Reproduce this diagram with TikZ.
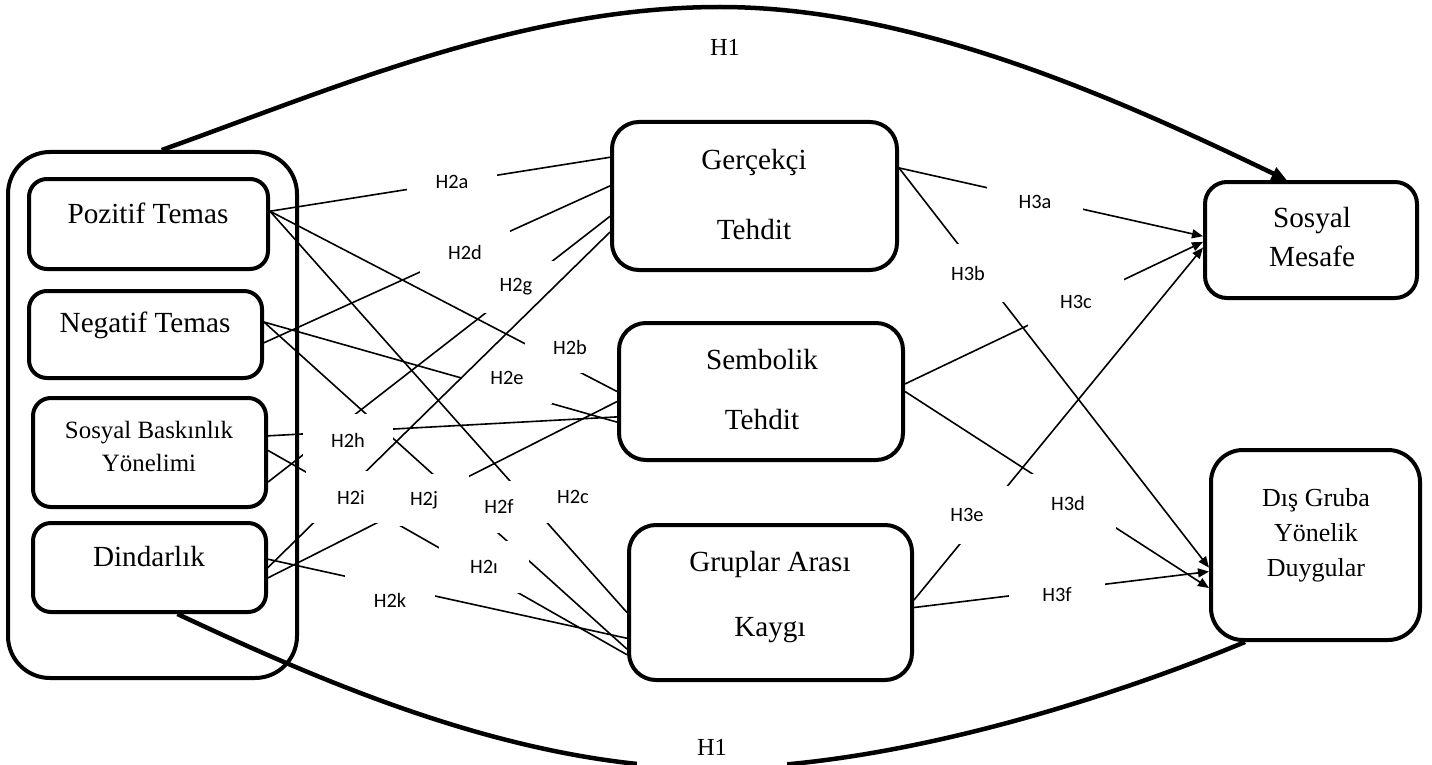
\documentclass[tikz,border=0pt]{standalone}
\usepackage{fontspec}
\setmainfont{Liberation Serif}
\newfontfamily\hypfont{Carlito}
\usetikzlibrary{arrows.meta}
\def\boxfont#1#2{\fontsize{#1}{#2}\selectfont}
\tikzset{
	factor/.style={draw, fill=white, line width=4pt, rounded corners=18pt, inner sep=0pt},
	boxtext/.style={align=center, inner sep=0pt},
	link/.style={line width=1.6pt},
	linkarrow/.style={link, -{Triangle[length=11pt, width=9pt]}},
	hyptwo/.style={fill=white, inner sep=0pt, minimum width=90pt, minimum height=52pt, font=\hypfont\boxfont{20.4}{24}},
	hypthree/.style={hyptwo, minimum width=96pt, minimum height=58pt},
	bow/.style={line width=4.5pt},
	hone/.style={fill=white, inner sep=0pt, font=\boxfont{24.5}{29}}
}

\begin{document}
\begin{tikzpicture}[x=1pt, y=-1pt]
		%%%%% START %%%%%
		\useasboundingbox (0,0) rectangle (1432,765);
		
		\node[factor, rounded corners=42pt, minimum width=289pt, minimum height=526pt] (outer) at (152.5,415) {};
		\node[factor, minimum width=239pt, minimum height=90pt] (poz) at (148.5,224) {};
		\node[factor, minimum width=233pt, minimum height=87pt] (neg) at (145.5,334.5) {};
		\node[factor, minimum width=233pt, minimum height=109pt] (sby) at (149.5,452.5) {};
		\node[factor, minimum width=233pt, minimum height=89pt] (din) at (149.5,567.5) {};
		
		\node[factor, rounded corners=27pt, minimum width=285pt, minimum height=148pt] (ger) at (754.5,196) {};
		\node[factor, rounded corners=27pt, minimum width=284pt, minimum height=137pt] (sem) at (761,391.5) {};
		\node[factor, rounded corners=27pt, minimum width=283pt, minimum height=155pt] (kay) at (770.5,602.5) {};
		
		\node[factor, rounded corners=22pt, minimum width=212pt, minimum height=116pt] (mes) at (1311,240) {};
		\node[factor, rounded corners=32pt, minimum width=209pt, minimum height=190pt] (duy) at (1315.5,545) {};
		
		\node[boxtext, font=\boxfont{29.2}{35}] (poztext) at (148,213) {Pozitif Temas};
		\node[boxtext, font=\boxfont{29.2}{35}] (negtext) at (145,325) {Negatif Temas};
		\node[boxtext, font=\boxfont{24.9}{33}] (sbytext) at (149,446.5) {Sosyal Baskınlık\\Yönelimi};
		\node[boxtext, font=\boxfont{29.2}{35}] (dintext) at (149,557) {Dindarlık};
		\node[boxtext, font=\boxfont{29.2}{70}] (gertext) at (754,195) {Gerçekçi\\Tehdit};
		\node[boxtext, font=\boxfont{29.2}{60}] (semtext) at (762,390) {Sembolik\\Tehdit};
		\node[boxtext, font=\boxfont{29.2}{65}] (kaytext) at (770,597.5) {Gruplar Arası\\Kaygı};
		\node[boxtext, font=\boxfont{29.2}{39}] (mestext) at (1312,237.5) {Sosyal\\Mesafe};
		\node[boxtext, font=\boxfont{26}{35}] (duytext) at (1316,535) {Dış Gruba\\Yönelik\\Duygular};
		
		\draw[link] (poz.6) -- (ger.165);
		\draw[link] (poz.6) -- (sem.180);
		\draw[link] (poz.6) -- (kay.184);
		\draw[link] (neg.356) -- (ger.176);
		\draw[link] (neg.6) -- (sem.192);
		\draw[link] (neg.6) -- (kay.198);
		\draw[link] (sby.346) -- (ger.188);
		\draw[link] (sby.8) -- (sem.190);
		\draw[link] (sby.1) -- (kay.200);
		\draw[link] (din.4) -- (kay.194);
		\draw[link] (din.355) -- (sem.184);
		
		\draw[linkarrow] (ger.11) -- (mes.178);
		\draw[linkarrow] (ger.11) -- (duy.192);
		\draw[linkarrow] (sem.3) -- (mes.181);
		\draw[linkarrow] (sem.0) -- (duy.202);
		\draw[linkarrow] (kay.1) -- (mes.184);
		\draw[linkarrow] (kay.358) -- (duy.194);
		
		\node[hyptwo] (h2a) at (452,182) {H2a};
		\node[hyptwo] (h2d) at (465,252) {H2d};
		\node[hyptwo] (h2g) at (516,287) {H2g};
		\node[hyptwo] (h2b) at (570,347) {H2b};
		\node[hyptwo] (h2e) at (507,378) {H2e};
		\node[hyptwo] (h2h) at (348,440) {H2h};
		\node[hyptwo] (h2j) at (424,500) {H2j};
		\node[hyptwo] (h2f) at (499,507) {H2f};
		\node[hyptwo] (h2c) at (573,497) {H2c};
		\node[hyptwo] (h2l) at (484,567) {H2ı};
		\node[hyptwo] (h2k) at (390,600) {H2k};
		
		\draw[link] (din.0) -- (ger.194);
		\node[hyptwo] (h2i) at (351,497) {H2i};
		
		\node[hypthree] (h3a) at (1035,202) {H3a};
		\node[hypthree] (h3b) at (968,273) {H3b};
		\node[hypthree] (h3c) at (1076,302) {H3c};
		\node[hypthree] (h3d) at (1068,503) {H3d};
		\node[hypthree] (h3e) at (967,515) {H3e};
		\node[hypthree] (h3f) at (1057,595) {H3f};
		
		\draw[bow, -{Triangle[length=15pt, width=13pt]}] (outer.88) .. controls (330,90) and (520,7) .. (720,7) .. controls (920,7) and (1130,105) .. (mes.112);
		\draw[bow] (din.301) .. controls (327,684) and (520,768) .. (712,768) .. controls (900,768) and (1125,692) .. (duy.234);
		
		\node[hone] (h1top) at (725,47) {H1};
		\node[hone, minimum width=150pt, minimum height=50pt] (h1bottom) at (712,747) {H1};
		
		%%%%% END %%%%%
\end{tikzpicture}
\end{document}
